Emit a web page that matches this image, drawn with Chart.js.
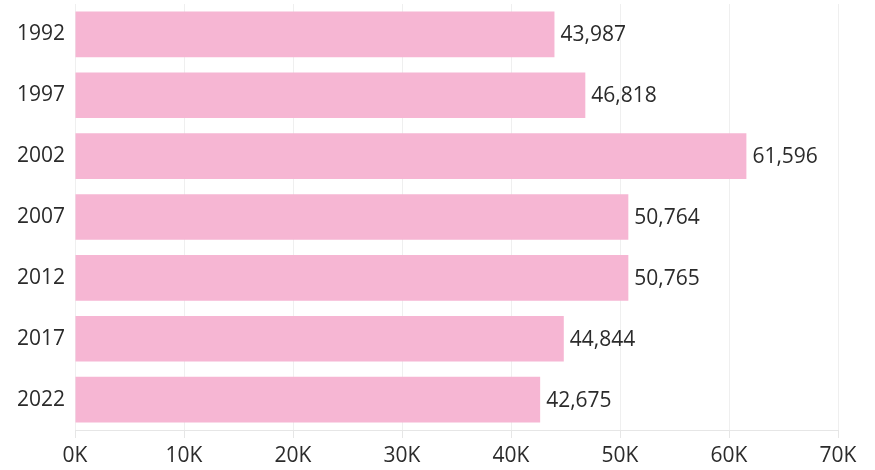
<!DOCTYPE html>
<html>
<head>
<meta charset="utf-8">
<script src="https://cdn.jsdelivr.net/npm/chart.js@4/dist/chart.umd.min.js"></script>
<style>
  html, body { margin: 0; padding: 0; background: #fff; }
  #wrap { width: 875px; height: 470px; }
</style>
</head>
<body>
<div id="wrap"><canvas id="chart"></canvas></div>
<script>
const years = ["1992", "1997", "2002", "2007", "2012", "2017", "2022"];
const values = [43987, 46818, 61596, 50764, 50765, 44844, 42675];
const xTicks = [0, 10000, 20000, 30000, 40000, 50000, 60000, 70000];

const FONT = "'Open Sans', sans-serif";
const TEXT = "#2b2b2b";

// value labels at the end of each bar
const barLabels = {
  id: "barLabels",
  afterDatasetsDraw(chart) {
    const ctx = chart.ctx;
    const meta = chart.getDatasetMeta(0);
    ctx.save();
    ctx.font = "21px " + FONT;
    ctx.fillStyle = TEXT;
    ctx.textAlign = "left";
    ctx.textBaseline = "middle";
    meta.data.forEach((bar, i) => {
      ctx.fillText(values[i].toLocaleString("en-US"), bar.x + 6, bar.y + 1);
    });
    ctx.restore();
  }
};

new Chart(document.getElementById("chart"), {
  type: "bar",
  data: {
    labels: years,
    datasets: [{
      data: values,
      backgroundColor: "#F6B6D3",
      borderWidth: 0,
      categoryPercentage: 1,
      barPercentage: 0.75
    }]
  },
  options: {
    indexAxis: "y",
    responsive: true,
    maintainAspectRatio: false,
    animation: false,
    layout: { padding: { top: 4, right: 37, left: 0, bottom: 0 } },
    plugins: { legend: { display: false }, tooltip: { enabled: false } },
    scales: {
      x: {
        min: 0,
        max: 70000,
        afterBuildTicks(axis) {
          axis.ticks = xTicks.map(v => ({ value: v }));
        },
        afterFit(axis) {
          axis.height = 40;
          axis.paddingLeft = 0;
          axis.paddingRight = 0;
        },
        grid: { color: "#efefef", tickLength: 8, tickColor: "#e6e6e6" },
        border: { color: "#e6e6e6" },
        ticks: {
          color: TEXT,
          font: { family: FONT, size: 21 },
          padding: 5,
          maxRotation: 0,
          callback: v => (v / 1000) + "K"
        }
      },
      y: {
        afterFit(axis) {
          axis.width = 75;
          axis.paddingTop = 0;
          axis.paddingBottom = 0;
        },
        grid: { display: false, drawTicks: false },
        border: { display: false },
        ticks: {
          color: TEXT,
          font: { family: FONT, size: 21 },
          padding: 10
        }
      }
    }
  },
  plugins: [barLabels]
});
</script>
</body>
</html>
